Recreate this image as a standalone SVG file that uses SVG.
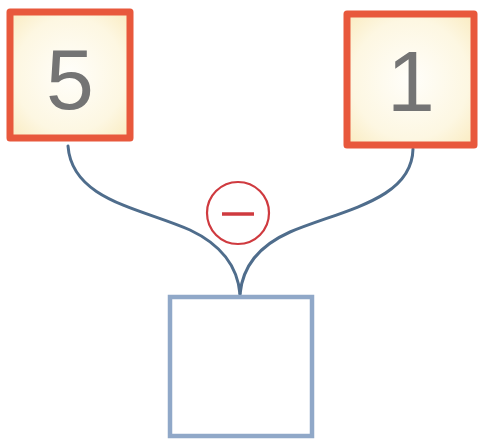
<svg xmlns="http://www.w3.org/2000/svg" width="480" height="447" viewBox="0 0 480 447">
<defs>
<radialGradient id="pale" cx="0.5" cy="0.5" r="0.7">
<stop offset="0" stop-color="#fffefa"/>
<stop offset="0.65" stop-color="#fdf7e2"/>
<stop offset="1" stop-color="#faebc0"/>
</radialGradient>
<style>
.num{fill:url(#pale);stroke:#e8583c;stroke-width:7;stroke-linejoin:round}
.digit{font-family:"Liberation Sans",Arial,sans-serif;font-size:86px;fill:#747474;text-anchor:middle}
.res{fill:#ffffff;stroke:#90a8c8;stroke-width:4.5}
.conn{fill:none;stroke:#4f6d8c;stroke-width:3;stroke-linecap:round}
.op{fill:#ffffff;stroke:#cf3a3f;stroke-width:2.2}
</style>
</defs>
<rect width="480" height="447" fill="#ffffff"/>
<g id="connectors">
<path class="conn" d="M68,146 C72,200 140,208 190,230 C226,247 238,272 240,294"/>
<path class="conn" d="M413,149 C412,200 342,210 290,232 C254,248 242,272 240,294"/>
</g>
<g id="node-5">
<rect class="num" x="10" y="12" width="120" height="126"/>
<text class="digit" x="70" y="109">5</text>
</g>
<g id="node-1">
<rect class="num" x="347" y="14" width="127" height="131"/>
<text class="digit" x="411" y="111">1</text>
</g>
<g id="op-minus">
<circle class="op" cx="238" cy="213" r="31"/>
<line x1="222" y1="214" x2="254" y2="214" stroke="#cf3a3f" stroke-width="3.5"/>
</g>
<g id="node-result">
<rect class="res" x="170" y="297" width="142" height="139"/>
</g>
</svg>
